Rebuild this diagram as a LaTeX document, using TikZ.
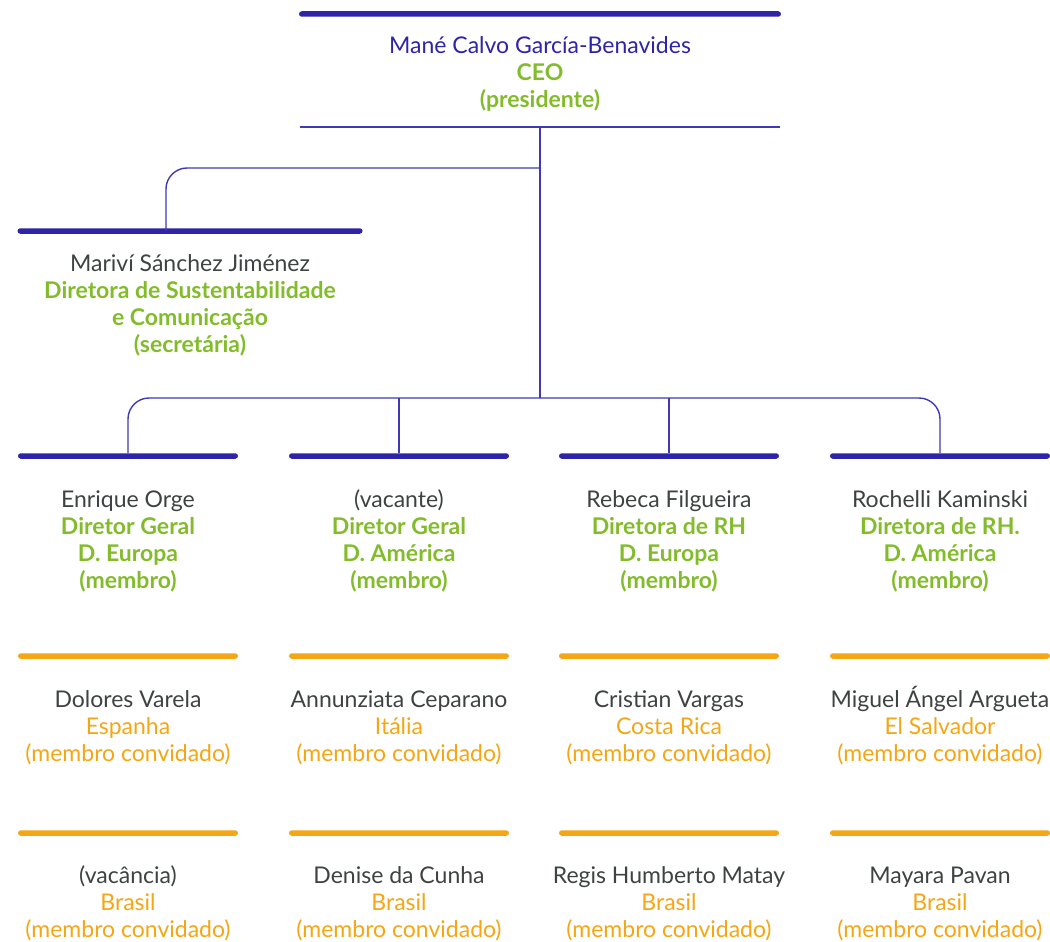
\documentclass[tikz,border=0pt]{standalone}
\usepackage{fontspec}
\setmainfont{Lato}
\usetikzlibrary{positioning}
\definecolor{orgBar}{HTML}{2E24A8}
\definecolor{orgLine}{HTML}{4038B4}
\definecolor{orgName}{HTML}{3F4242}
\definecolor{orgGreen}{HTML}{82BC2A}
\definecolor{orgGuest}{HTML}{F5A614}
\newcommand{\orgrole}[1]{\textcolor{orgGreen}{\bfseries #1}}
\newcommand{\orgplace}[1]{\textcolor{orgGuest}{#1}}
\tikzset{
  orgfig/.style={
    x=1pt, y=-1pt,
    every node/.append style={font=\fontsize{23}{27}\selectfont},
  },
  bluebar/.style={
    fill=orgBar, inner sep=0pt, rounded corners=2.75pt,
    minimum width=220pt, minimum height=5.5pt,
  },
  guestbar/.style={bluebar, fill=orgGuest},
  rulebar/.style={bluebar, rounded corners=0pt, minimum height=1.4pt, fill=orgLine},
  person/.style={align=center, inner sep=0pt, text=orgName},
  link/.style={draw=orgLine, line width=1.4pt},
}

\begin{document}
\begin{tikzpicture}[orgfig]
  \useasboundingbox (0,0) rectangle (1050,942);
  % presidente
  \node[bluebar, minimum width=482pt] (CeoBar) at (540,14) {};
  \node[person, text=orgBar] (Ceo) at (540,74) {Mané Calvo García-Benavides\\ \orgrole{CEO}\\ \orgrole{(presidente)}};
  \node[rulebar, minimum width=480pt] (CeoRule) at (540,127) {};
  % secretaria
  \node[bluebar, minimum width=345pt] (SecBar) at (190,231) {};
  \node[person] (Secretary) at (190,305) {Mariví Sánchez Jiménez\\ \orgrole{Diretora de Sustentabilidade}\\ \orgrole{e Comunicação}\\ \orgrole{(secretária)}};
  \coordinate (SecDrop) at (166,231);
  \coordinate (Trunk) at (540,398);
  % membros
  \node[bluebar] (DirEurope) at (128,456) {};
  \node[bluebar] (DirAmerica) at (399,456) {};
  \node[bluebar] (HrEurope) at (669,456) {};
  \node[bluebar] (HrAmerica) at (940,456) {};
  \node[person] (Orge) at (128,541) {Enrique Orge\\ \orgrole{Diretor Geral}\\ \orgrole{D. Europa}\\ \orgrole{(membro)}};
  \node[person] (Vacant) at (399,541) {(vacante)\\ \orgrole{Diretor Geral}\\ \orgrole{D. América}\\ \orgrole{(membro)}};
  \node[person] (Filgueira) at (669,541) {Rebeca Filgueira\\ \orgrole{Diretora de RH}\\ \orgrole{D. Europa}\\ \orgrole{(membro)}};
  \node[person] (Kaminski) at (940,541) {Rochelli Kaminski\\ \orgrole{Diretora de RH.}\\ \orgrole{D. América}\\ \orgrole{(membro)}};
  % membros convidados
  \node[guestbar] (GuestSpain) at (128,656) {};
  \node[guestbar] (GuestItaly) at (399,656) {};
  \node[guestbar] (GuestCostaRica) at (669,656) {};
  \node[guestbar] (GuestSalvador) at (940,656) {};
  \node[person] (Varela) at (128,728) {Dolores Varela\\ \orgplace{Espanha}\\ \orgplace{(membro convidado)}};
  \node[person] (Ceparano) at (399,728) {Annunziata Ceparano\\ \orgplace{Itália}\\ \orgplace{(membro convidado)}};
  \node[person] (Vargas) at (669,728) {Cristian Vargas\\ \orgplace{Costa Rica}\\ \orgplace{(membro convidado)}};
  \node[person] (Argueta) at (940,725.5) {Miguel Ángel Argueta\\ \orgplace{El Salvador}\\ \orgplace{(membro convidado)}};
  \node[guestbar] (BrazilA) at (128,833) {};
  \node[guestbar] (BrazilB) at (399,833) {};
  \node[guestbar] (BrazilC) at (669,833) {};
  \node[guestbar] (BrazilD) at (940,833) {};
  \node[person] (Vacancy) at (128,903.5) {(vacância)\\ \orgplace{Brasil}\\ \orgplace{(membro convidado)}};
  \node[person] (Cunha) at (399,903.5) {Denise da Cunha\\ \orgplace{Brasil}\\ \orgplace{(membro convidado)}};
  \node[person] (Matay) at (669,903.5) {Regis Humberto Matay\\ \orgplace{Brasil}\\ \orgplace{(membro convidado)}};
  \node[person] (Pavan) at (940,903.5) {Mayara Pavan\\ \orgplace{Brasil}\\ \orgplace{(membro convidado)}};
  % ligacoes
  \draw[link] (CeoRule.south) -- (Trunk);
  \draw[link, rounded corners=21pt] (CeoRule.south |- 0,168) -| (SecDrop);
  \draw[link, rounded corners=21pt] (Trunk) -| (DirEurope.north);
  \draw[link, rounded corners=21pt] (Trunk) -| (HrAmerica.north);
  \draw[link] (DirAmerica.north |- Trunk) -- (DirAmerica.north);
  \draw[link] (HrEurope.north |- Trunk) -- (HrEurope.north);
\end{tikzpicture}
\end{document}
